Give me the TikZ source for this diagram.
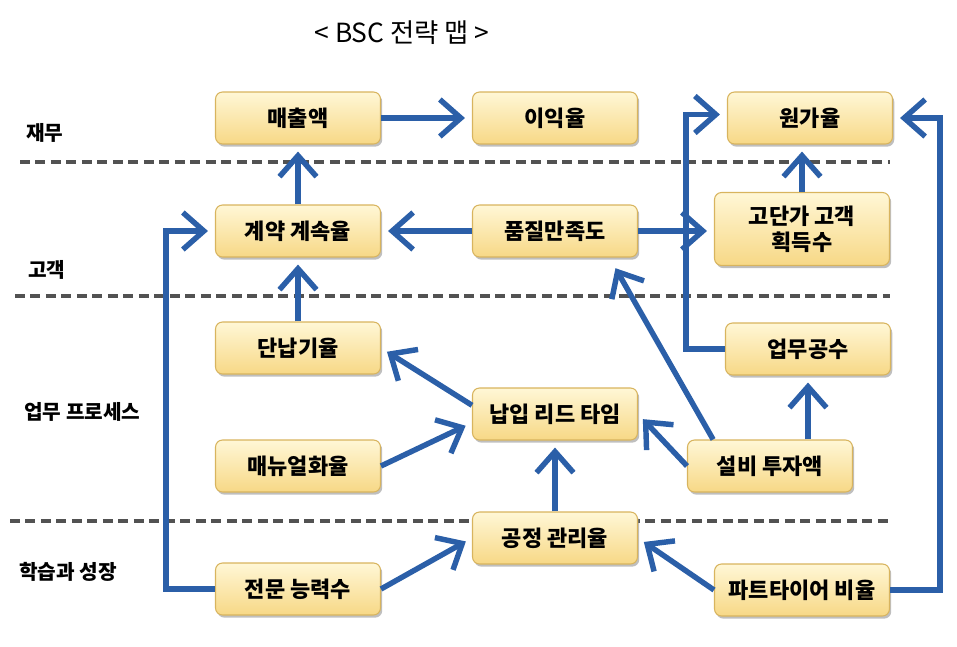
\documentclass[tikz,border=0pt]{standalone}
\usepackage{fontspec}
\setmainfont{Noto Sans CJK KR}
\usetikzlibrary{arrows.meta, shadows}

\definecolor{linkblue}{HTML}{2B5FA8}
\definecolor{boxtop}{HTML}{FFF7D6}
\definecolor{boxbottom}{HTML}{F7D886}
\definecolor{boxedge}{HTML}{D8B45E}

\begin{document}
\begin{tikzpicture}[
    x=0.02cm, y=-0.02cm,
    % Styles for each element
    goal/.style={rectangle, rounded corners=4pt, draw=boxedge, semithick, align=center,
        top color=boxtop, bottom color=boxbottom, minimum width=3.3cm, minimum height=1.04cm,
        inner sep=2pt, font=\bfseries\fontsize{12.5}{15}\selectfont,
        drop shadow={shadow xshift=1pt, shadow yshift=-1.5pt, opacity=0.5}},
    widegoal/.style={goal, minimum width=3.5cm},
    layer/.style={anchor=west, font=\bfseries\fontsize{11.5}{13}\selectfont},
    divider/.style={draw=black!68, line width=2pt, dash pattern=on 0.2cm off 0.11cm},
    arrow/.style={line width=3.1pt, linkblue, shorten >=4pt,
        -{Straight Barb[length=0.42cm, width=0.74cm]}}
]
\useasboundingbox (0,0) rectangle (957,646);

% Title
\node (title) at (402,33) {\fontsize{15}{17}\selectfont < BSC 전략 맵 >};

% Layer dividers
\draw[divider] (20,162) -- (890,162);
\draw[divider] (15,296) -- (890,296);
\draw[divider] (10,521) -- (890,521);

% Layer names
\node[layer] (lfin)   at (20,133) {재무};
\node[layer] (lcust)  at (22,270) {고객};
\node[layer] (lproc)  at (18,412) {업무 프로세스};
\node[layer] (llearn) at (13,572) {학습과 성장};

% Financial
\node[goal] (sales)    at (298,118) {매출액};
\node[goal] (profit)   at (555,118) {이익율};
\node[goal] (costrate) at (810,118) {원가율};

% Customer
\node[goal]     (renew)   at (298,231) {계약 계속율};
\node[goal]     (quality) at (555,231) {품질만족도};
\node[widegoal, minimum height=1.46cm] (premium) at (802,229) {고단가 고객\\획득수};

% Internal process
\node[goal] (ontime)   at (298,348) {단납기율};
\node[goal] (workhrs)  at (808,349) {업무공수};
\node[goal] (leadtime) at (555,414) {납입 리드 타임};
\node[goal] (manual)   at (298,466) {매뉴얼화율};
\node[goal] (capex)    at (770,466) {설비 투자액};

% Learning and growth
\node[goal]     (process)  at (555,538) {공정 관리율};
\node[goal]     (skills)   at (298,589) {전문 능력수};
\node[widegoal] (parttime) at (802,590) {파트타이어 비율};

% Financial links
\draw[arrow] (sales) -- (profit);
\draw[arrow] (renew) -- (sales);
\draw[arrow] (premium.north) -- (premium.north |- costrate.south);
\draw[arrow] (workhrs.west) -- ++(-39,0) |- ([yshift=2pt]costrate.west);
\draw[arrow] (parttime.east) -- ++(50,0) |- (costrate.east);

% Customer links
\draw[arrow] (quality) -- (renew);
\draw[arrow] (quality.east) -- (premium.west |- quality.east);
\draw[arrow] (skills.west) -- ++(-49,0) |- (renew.west);
\draw[arrow] (ontime) -- (renew);

% Process links
\draw[arrow] (leadtime.174) -- (ontime.east);
\draw[arrow] (manual.east) -- (leadtime.186);
\draw[arrow] (capex.west) -- (leadtime.east);
\draw[arrow, shorten >=7pt] (capex.155) -- (quality.-26);
\draw[arrow] (capex.north -| workhrs.south) -- (workhrs.south);
\draw[arrow] (process) -- (leadtime);

% Learning links
\draw[arrow] (skills.east) -- (process.west);
\draw[arrow] (parttime.west) -- (process.east);

\end{tikzpicture}
\end{document}
